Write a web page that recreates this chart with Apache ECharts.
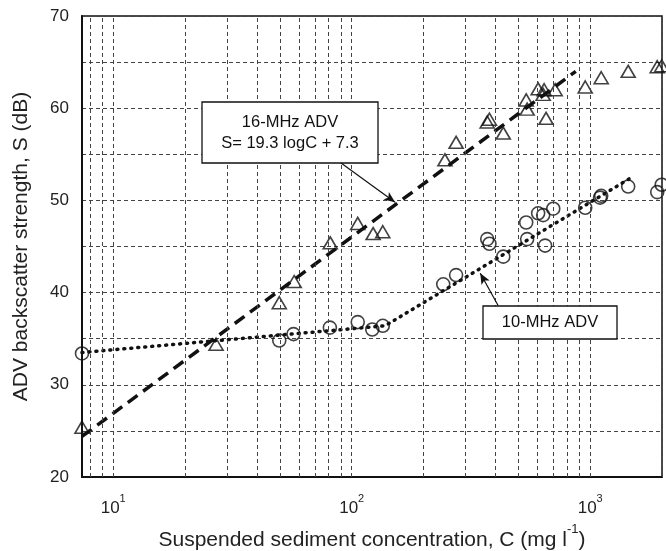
<!DOCTYPE html>
<html>
<head>
<meta charset="utf-8">
<script src="https://cdn.jsdelivr.net/npm/echarts@6/dist/echarts.min.js"></script>
<style>
  html, body { margin: 0; padding: 0; background: #fff; }
  #chart { width: 666px; height: 551px; }
</style>
</head>
<body>
<div id="chart"></div>
<script>
// 16-MHz ADV (triangles): [C mg/l, S dB]
const tri16 = [
  [7.4, 25.4], [27, 34.4], [49.7, 38.9], [57.4, 41.2], [81.3, 45.4],
  [106, 47.5], [123, 46.4], [135, 46.6], [246, 54.4], [274, 56.3],
  [370, 58.5], [378, 58.8], [432, 57.3], [539, 60.9], [544, 59.9],
  [605, 62.1], [635, 61.5], [641, 62.0], [653, 58.9], [713, 62.0],
  [953, 62.3], [1112, 63.3], [1443, 64.0], [1910, 64.5], [1995, 64.6]
];
// 10-MHz ADV (circles)
const circ10 = [
  [7.4, 33.4], [49.7, 34.8], [57, 35.5], [81, 36.2], [106, 36.8],
  [122, 36.0], [135, 36.4], [242, 40.9], [274, 41.9], [370, 45.8],
  [378, 45.3], [432, 43.9], [539, 47.6], [544, 45.8], [605, 48.6],
  [635, 48.4], [647, 45.1], [700, 49.1], [953, 49.2], [1100, 50.3],
  [1112, 50.5], [1443, 51.5], [1910, 50.9], [1995, 51.7]
];
// fitted lines
const fit16 = [[7.4, 24.4], [870, 64.0]];
const fit10 = [[7.4, 33.5], [138, 36.4], [1470, 52.4]];
// vertical log grid lines
const xGrid = [8, 9, 10, 20, 30, 40, 50, 60, 70, 80, 90, 100, 200, 300, 400, 500, 600, 700, 800, 900, 1000, 2000];
// annotation arrows (data coords): [from, to]
const arrow16 = [[89.6, 54.1], [152, 49.8]];
const arrow10 = [[411, 38.6], [346, 42.1]];

const FONT = "'Liberation Sans', Arial, sans-serif";
const gridStyle = { color: '#444', width: 1, type: [4, 3] };

const chart = echarts.init(document.getElementById('chart'));
chart.setOption({
  animation: false,
  backgroundColor: '#fff',
  grid: {
    left: 82, top: 16, right: 4, bottom: 74,
    outerBoundsMode: 'none',
    show: true, borderColor: '#111', borderWidth: 1.5
  },
  xAxis: {
    type: 'log',
    logBase: 10,
    min: 7.4,
    max: 2000,
    axisLine: { lineStyle: { color: '#111', width: 2 } },
    axisTick: { show: false },
    splitLine: { show: false },
    axisLabel: {
      margin: 16,
      formatter: v => {
        const l = Math.log10(v);
        return Math.abs(l - Math.round(l)) < 1e-6 ? '{b|10}{sup|' + Math.round(l) + '}' : '';
      },
      rich: {
        b: { fontSize: 17, lineHeight: 24, verticalAlign: 'bottom', fontFamily: FONT, color: '#222' },
        sup: { fontSize: 11, lineHeight: 14, verticalAlign: 'top', fontFamily: FONT, color: '#222' }
      }
    },
    name: '{b|Suspended sediment concentration, C (mg l}{sup|-1}{b|)}',
    nameLocation: 'middle',
    nameGap: 46,
    nameTextStyle: {
      rich: {
        b: { fontSize: 21, lineHeight: 28, verticalAlign: 'bottom', fontFamily: FONT, color: '#222' },
        sup: { fontSize: 13, lineHeight: 18, verticalAlign: 'top', fontFamily: FONT, color: '#222' }
      }
    }
  },
  yAxis: {
    type: 'value',
    min: 20,
    max: 70,
    interval: 5,
    axisLine: { show: true, lineStyle: { color: '#111', width: 2 } },
    axisTick: { show: false },
    splitLine: { show: true, lineStyle: gridStyle },
    axisLabel: {
      margin: 13,
      color: '#222',
      fontSize: 17,
      fontFamily: FONT,
      formatter: v => (v % 10 === 0 ? String(v) : '')
    },
    name: 'ADV backscatter strength, S (dB)',
    nameLocation: 'middle',
    nameGap: 50,
    nameTextStyle: { fontSize: 21, fontFamily: FONT, color: '#222' }
  },
  series: [
    {
      type: 'line',
      data: [],
      silent: true,
      z: 1,
      markLine: {
        silent: true,
        symbol: ['none', 'none'],
        label: { show: false },
        lineStyle: gridStyle,
        data: xGrid.map(v => ({ xAxis: v }))
      }
    },
    {
      name: '16-MHz fit',
      type: 'line',
      data: fit16,
      showSymbol: false,
      z: 3,
      lineStyle: { color: '#111', width: 3.5, type: [12, 7] },
      markLine: {
        silent: true,
        symbol: ['none', 'arrow'],
        symbolSize: [7, 11],
        label: { show: false },
        lineStyle: { color: '#111', width: 1.2, type: 'solid' },
        data: [
          [{ coord: arrow16[0] }, { coord: arrow16[1] }],
          [{ coord: arrow10[0] }, { coord: arrow10[1] }]
        ]
      }
    },
    {
      name: '10-MHz fit',
      type: 'line',
      data: fit10,
      showSymbol: false,
      z: 3,
      lineStyle: { color: '#111', width: 3.5, type: [1, 6], cap: 'round' }
    },
    {
      name: '16-MHz ADV',
      type: 'scatter',
      data: tri16,
      symbol: 'triangle',
      symbolSize: [14, 12],
      z: 4,
      itemStyle: { color: 'transparent', borderColor: '#111', borderWidth: 1.6 }
    },
    {
      name: '10-MHz ADV',
      type: 'scatter',
      data: circ10,
      symbol: 'circle',
      symbolSize: 13,
      z: 4,
      itemStyle: { color: 'transparent', borderColor: '#111', borderWidth: 1.6 }
    }
  ],
  graphic: [
    {
      type: 'rect',
      shape: { x: 202, y: 102, width: 176, height: 61 },
      style: { fill: '#fff', stroke: '#111', lineWidth: 1.3 },
      z: 10
    },
    {
      type: 'text',
      style: { text: '16-MHz ADV', x: 290, y: 122, align: 'center', verticalAlign: 'middle', fontSize: 16.5, fontFamily: FONT, fill: '#111' },
      z: 11
    },
    {
      type: 'text',
      style: { text: 'S= 19.3 logC + 7.3', x: 290, y: 143, align: 'center', verticalAlign: 'middle', fontSize: 16.5, fontFamily: FONT, fill: '#111' },
      z: 11
    },
    {
      type: 'rect',
      shape: { x: 483, y: 306, width: 134, height: 33 },
      style: { fill: '#fff', stroke: '#111', lineWidth: 1.3 },
      z: 10
    },
    {
      type: 'text',
      style: { text: '10-MHz ADV', x: 550, y: 322.5, align: 'center', verticalAlign: 'middle', fontSize: 16.5, fontFamily: FONT, fill: '#111' },
      z: 11
    }
  ]
});
</script>
</body>
</html>
